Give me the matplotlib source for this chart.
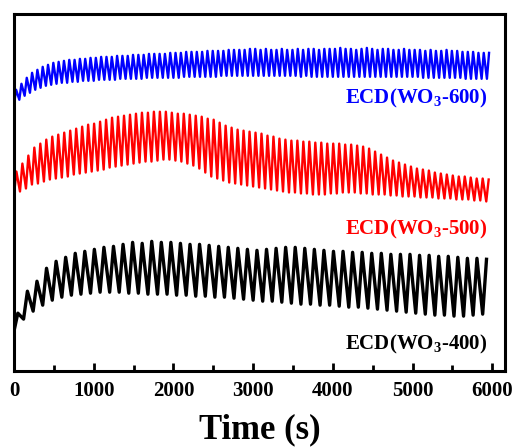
import numpy as np
import matplotlib
matplotlib.use("Agg")
import matplotlib.pyplot as plt

plt.rcParams['font.family'] = 'Liberation Serif'
plt.rcParams['font.weight'] = 'bold'
plt.rcParams['mathtext.fontset'] = 'custom'
plt.rcParams['mathtext.rm'] = 'Liberation Serif:bold'
plt.rcParams['mathtext.bf'] = 'Liberation Serif:bold'
plt.rcParams['mathtext.it'] = 'Liberation Serif:bold'
plt.rcParams['mathtext.default'] = 'bf'

# peak / trough level of every switching cycle (arbitrary units)
blue_top = [282, 288, 294, 299, 302, 305, 307, 309, 310, 311, 312, 312, 313, 313, 314, 314,
            315, 315, 315, 316, 316, 316, 317, 317, 317, 318, 318, 318, 318, 319, 319,
            319, 320, 320, 320, 320, 321, 321, 321, 321, 322, 322, 322, 322, 323, 323,
            322, 323, 322, 322, 323, 322, 322, 323, 322, 323, 323, 322, 323, 323, 323,
            324, 323, 323, 322, 323, 324, 323, 322, 323, 323, 322, 322, 323, 322, 322,
            322, 321, 322, 321, 321, 322, 321, 321, 320, 320, 320, 319, 319, 319]
blue_bot = [268, 272, 276, 279, 282, 284, 286, 287, 288, 289, 289, 290, 290, 291, 291, 291,
            292, 292, 292, 292, 293, 293, 293, 293, 293, 294, 294, 294, 294, 294, 294,
            294, 295, 295, 295, 295, 295, 295, 295, 296, 296, 296, 296, 296, 296, 296,
            296, 296, 296, 296, 296, 296, 296, 296, 295, 296, 295, 295, 295, 295, 295,
            295, 295, 295, 295, 295, 295, 295, 295, 295, 295, 295, 295, 295, 295, 295,
            295, 294, 294, 294, 294, 294, 294, 294, 294, 293, 293, 293, 293, 293]

red_top = [200, 208, 216, 224, 228, 232, 235, 237, 239, 241,
           243, 245, 247, 248, 250, 252, 254, 255, 256, 257,
           258, 259, 259, 260, 260, 260, 259, 258, 258, 257,
           256, 255, 253, 252, 249, 246, 244, 242, 241, 240,
           239, 238, 236, 235, 233, 232, 231, 231, 230, 230,
           229, 229, 228, 228, 228, 227, 227, 226, 225, 223,
           220, 217, 214, 211, 209, 207, 205, 203, 202, 201,
           199, 198, 197, 196, 195, 195, 194, 193, 193, 192]
red_bot = [177, 180, 183, 187, 188, 190, 192, 193, 194, 195,
           197, 198, 199, 200, 201, 202, 204, 205, 206, 207,
           208, 209, 210, 210, 211, 212, 212, 211, 210, 208,
           206, 203, 199, 195, 193, 191, 189, 188, 187, 186,
           185, 184, 183, 182, 181, 180, 179, 179, 178, 178,
           177, 177, 177, 178, 178, 179, 179, 179, 178, 178,
           177, 177, 177, 176, 176, 175, 175, 175, 174, 174,
           174, 173, 173, 173, 172, 172, 172, 171, 171, 170]

black_top = [58, 80, 90, 103, 110, 114, 118, 120, 122, 124,
             125, 127, 129, 128, 130, 129, 129, 128, 127, 127,
             126, 125, 124, 123, 122, 121, 122, 123, 124, 124,
             123, 122, 121, 120, 120, 119, 119, 118, 118, 117,
             117, 117, 116, 116, 115, 115, 114, 113, 113, 112]
black_bot = [40, 52, 60, 66, 71, 74, 76, 77, 78, 79,
             79, 79, 78, 78, 77, 77, 77, 76, 76, 75,
             75, 74, 74, 73, 72, 71, 70, 70, 69, 68,
             67, 67, 66, 66, 65, 64, 64, 63, 62, 61,
             60, 59, 58, 57, 56, 56, 55, 55, 56, 57]

series = [(blue_top, blue_bot, 'blue', 1.7, 'ECD(WO$_3$-600)', 273),
          (red_top, red_bot, 'red', 1.7, 'ECD(WO$_3$-500)', 142),
          (black_top, black_bot, 'black', 2.4, 'ECD(WO$_3$-400)', 27)]


def cycles(top, bot, total=6000.0):
    n = len(top)
    period = total / n
    t0 = np.arange(n) * period
    t = np.empty(2 * n)
    y = np.empty(2 * n)
    t[0::2] = t0
    t[1::2] = t0 + 0.4 * period
    y[0::2] = bot
    y[1::2] = top
    return t, y


fig = plt.figure(figsize=(5.13, 4.48), dpi=100)
ax = fig.add_axes([0.0273, 0.1719, 0.9571, 0.7969])

for top, bot, col, lw, lab, ypos in series:
    t, y = cycles(top, bot)
    ax.plot(t, y, color=col, lw=lw)
    ax.text(5945, ypos, lab, color=col, fontsize=15, fontweight='bold',
            ha='right', va='center')

ax.set_xlim(0, 6160)
ax.set_ylim(0, 358)
ax.set_xticks(np.arange(0, 6001, 1000))
ax.set_xticks(np.arange(500, 6000, 1000), minor=True)
ax.set_yticks([])
ax.tick_params(axis='x', which='major', direction='in', length=6, width=2,
               labelsize=15, pad=7)
ax.tick_params(axis='x', which='minor', direction='in', length=4, width=2)
for lbl in ax.get_xticklabels():
    lbl.set_fontweight('bold')
for s in ax.spines.values():
    s.set_linewidth(2.2)
ax.set_xlabel("Time (s)", fontsize=25, fontweight='bold', labelpad=9)

fig.savefig("out.png", dpi=100)
